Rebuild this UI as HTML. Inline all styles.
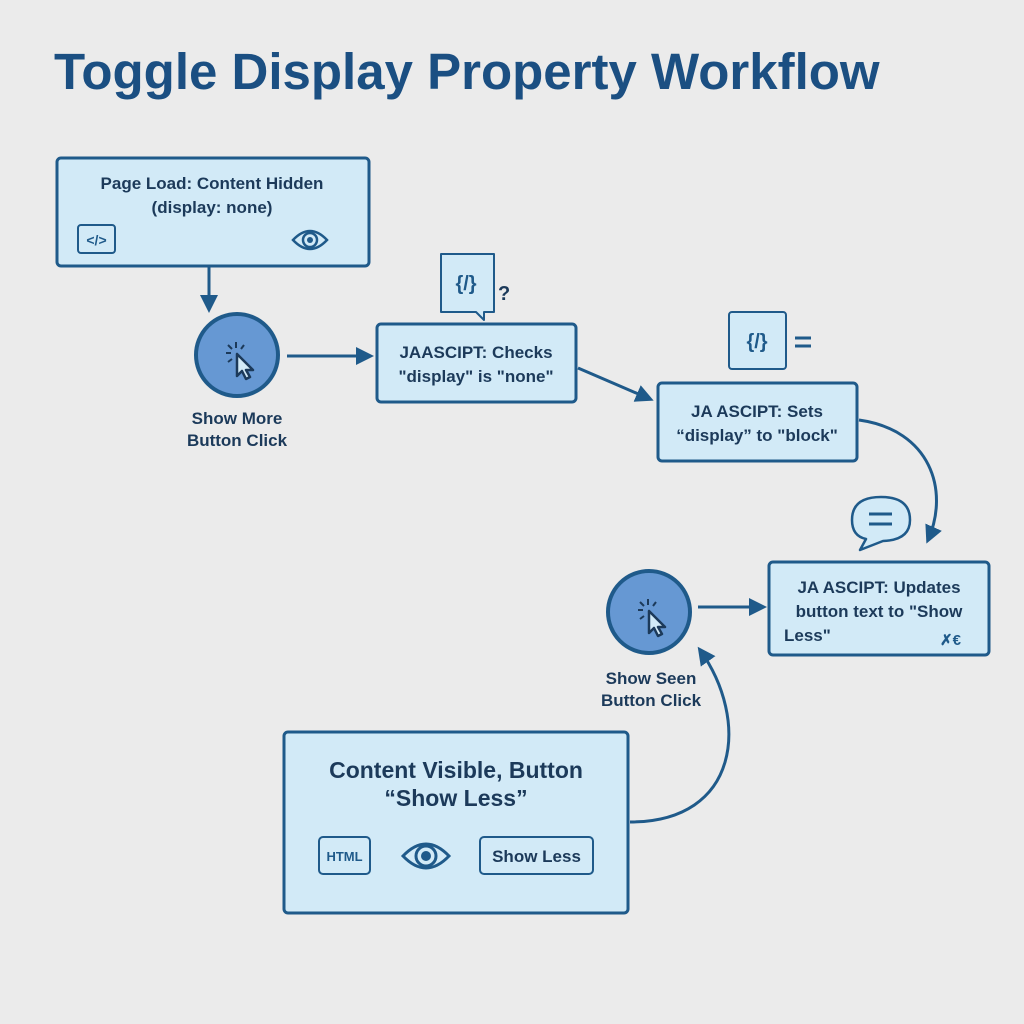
<!DOCTYPE html>
<html><head><meta charset="utf-8"><style>
html,body{margin:0;padding:0;background:#ebebeb;}
svg{display:block;}
text{font-family:"Liberation Sans",sans-serif;fill:#1c3a5a;font-weight:bold;}
</style></head><body>
<svg width="1024" height="1024" viewBox="0 0 1024 1024" xmlns="http://www.w3.org/2000/svg">
<defs>
<marker id="ah2" markerWidth="18" markerHeight="18" refX="14" refY="9" orient="auto" markerUnits="userSpaceOnUse" viewBox="0 0 18 18">
<path d="M0,0 L18,9 L0,18 z" fill="#1f5a8a"/></marker>
<g id="cur">
<path d="M-5,-6 L-5,16 L0,11 L4,19 L8,17 L4,10 L11,10 Z" fill="#d2eaf7" stroke="#1c3a5a" stroke-width="2.5" stroke-linejoin="round"/>
<g stroke="#1c3a5a" stroke-width="2"><line x1="-6" y1="-18" x2="-6" y2="-12"/><line x1="-16" y1="-7" x2="-11" y2="-7"/><line x1="-14" y1="-15" x2="-10" y2="-11"/><line x1="2" y1="-15" x2="-1" y2="-11"/><line x1="-14" y1="2" x2="-10" y2="-1"/></g>
</g>
</defs>
<rect width="1024" height="1024" fill="#ebebeb"/>
<text x="54" y="89" font-size="51" style="fill:#1b4f82">Toggle Display Property Workflow</text>

<g stroke="#1f5a8a" stroke-width="3" fill="#d2eaf7">
<rect x="57" y="158" width="312" height="108" rx="4"/>
<rect x="377" y="324" width="199" height="78" rx="4"/>
<rect x="658" y="383" width="199" height="78" rx="4"/>
<rect x="769" y="562" width="220" height="93" rx="4"/>
<rect x="284" y="732" width="344" height="181" rx="4"/>
</g>

<g stroke="#1f5a8a" stroke-width="3" fill="none">
<line x1="209" y1="267" x2="209" y2="309" marker-end="url(#ah2)"/>
<line x1="287" y1="356" x2="370" y2="356" marker-end="url(#ah2)"/>
<line x1="578" y1="368" x2="650" y2="399" marker-end="url(#ah2)"/>
<path d="M859,420 C930,430 950,490 928,540" marker-end="url(#ah2)"/>
<line x1="698" y1="607" x2="763" y2="607" marker-end="url(#ah2)"/>
<path d="M630,822 C740,822 750,720 700,650" marker-end="url(#ah2)"/>
</g>

<g stroke="#1f5a8a" stroke-width="4" fill="#6698d3">
<circle cx="237" cy="355" r="41"/>
<circle cx="649" cy="612" r="41"/>
</g>
<use href="#cur" transform="translate(242,360)"/>
<use href="#cur" transform="translate(654,617)"/>

<text x="212" y="189" font-size="17" text-anchor="middle">Page Load: Content Hidden</text>
<text x="212" y="213" font-size="17" text-anchor="middle">(display: none)</text>
<rect x="78" y="225" width="37" height="28" rx="3" fill="none" stroke="#1f5a8a" stroke-width="2"/>
<text x="96.5" y="245" font-size="14" text-anchor="middle" style="fill:#1f5a8a">&lt;/&gt;</text>
<g transform="translate(310,240)"><path d="M-17,0 Q0,-18 17,0 Q0,18 -17,0 Z" fill="none" stroke="#1f5a8a" stroke-width="2.5"/><circle r="7" fill="none" stroke="#1f5a8a" stroke-width="2.5"/><circle r="3" fill="#1f5a8a"/></g>

<text x="237" y="424" font-size="17" text-anchor="middle">Show More</text>
<text x="237" y="446" font-size="17" text-anchor="middle">Button Click</text>

<path d="M441,254 h53 v58 h-10 l0,8 l-8,-8 h-35 z" fill="#d2eaf7" stroke="#1f5a8a" stroke-width="2" stroke-linejoin="round"/>
<text x="466" y="290" font-size="20" text-anchor="middle" style="fill:#1f5a8a">{/}</text>
<text x="498" y="300" font-size="20" style="fill:#1c3a5a">?</text>

<text x="476" y="358" font-size="17" text-anchor="middle">JAASCIPT: Checks</text>
<text x="476" y="382" font-size="17" text-anchor="middle">"display" is "none"</text>

<rect x="729" y="312" width="57" height="57" rx="3" fill="#d2eaf7" stroke="#1f5a8a" stroke-width="2"/>
<text x="757" y="348" font-size="20" text-anchor="middle" style="fill:#1f5a8a">{/}</text>
<g stroke="#1f5a8a" stroke-width="3"><line x1="795" y1="338" x2="811" y2="338"/><line x1="795" y1="346" x2="811" y2="346"/></g>

<text x="757" y="417" font-size="17" text-anchor="middle">JA ASCIPT: Sets</text>
<text x="757" y="441" font-size="17" text-anchor="middle">“display” to "block"</text>

<path d="M866,539 Q852,536 852,520 Q852,497 881,497 Q910,497 910,520 Q910,540 883,541 L860,550 Z" fill="#d2eaf7" stroke="#1f5a8a" stroke-width="2.5" stroke-linejoin="round"/>
<g stroke="#1f5a8a" stroke-width="3"><line x1="869" y1="514" x2="892" y2="514"/><line x1="869" y1="524" x2="892" y2="524"/></g>

<text x="879" y="593" font-size="17" text-anchor="middle">JA ASCIPT: Updates</text>
<text x="879" y="617" font-size="17" text-anchor="middle">button text to "Show</text>
<text x="784" y="641" font-size="17">Less"</text>
<text x="940" y="645" font-size="15" style="fill:#1f5a8a">✗€</text>

<text x="651" y="684" font-size="17" text-anchor="middle">Show Seen</text>
<text x="651" y="706" font-size="17" text-anchor="middle">Button Click</text>

<text x="456" y="778" font-size="23" text-anchor="middle">Content Visible, Button</text>
<text x="456" y="806" font-size="23" text-anchor="middle">“Show Less”</text>
<rect x="319" y="837" width="51" height="37" rx="4" fill="none" stroke="#1f5a8a" stroke-width="2"/>
<text x="344.5" y="861" font-size="13" text-anchor="middle" style="fill:#1f5a8a">HTML</text>
<g transform="translate(426,856)"><path d="M-23,0 Q0,-24 23,0 Q0,24 -23,0 Z" fill="none" stroke="#1f5a8a" stroke-width="3"/><circle r="10" fill="none" stroke="#1f5a8a" stroke-width="3"/><circle r="5" fill="#1f5a8a"/></g>
<rect x="480" y="837" width="113" height="37" rx="4" fill="none" stroke="#1f5a8a" stroke-width="2"/>
<text x="536.5" y="862" font-size="17" text-anchor="middle">Show Less</text>
</svg>
</body></html>
